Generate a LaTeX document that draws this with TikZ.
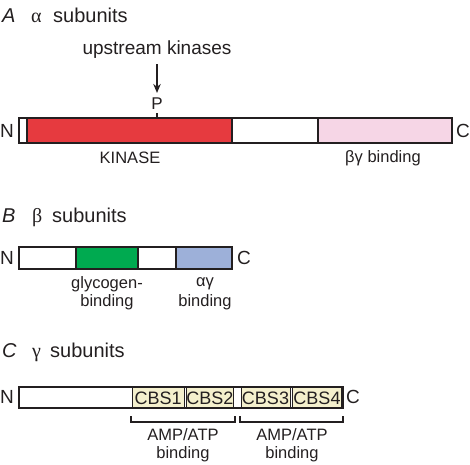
\documentclass[tikz,border=0pt]{standalone}
\usepackage{fontspec}
\setmainfont{Liberation Sans}
\newfontfamily\grserif{Liberation Serif}
\usetikzlibrary{arrows.meta}
\definecolor{ink}{HTML}{231F20}
\definecolor{kred}{HTML}{E63A3F}
\definecolor{bgpink}{HTML}{F6D6E6}
\definecolor{glygreen}{HTML}{00AA50}
\definecolor{agblue}{HTML}{9DB0D9}
\definecolor{cbsfill}{HTML}{F4F0CD}
\tikzset{
  seg/.style={draw=ink, line width=1.4pt},
  cbs/.style={draw=ink, line width=0.8pt, fill=cbsfill},
  lbl/.style={text=ink, font=\fontsize{16.5}{18}\selectfont, inner sep=0pt, align=center},
  ttl/.style={text=ink, font=\fontsize{20}{22}\selectfont, inner sep=0pt, anchor=base west},
  endl/.style={text=ink, font=\fontsize{19}{20}\selectfont, inner sep=0pt},
  cbst/.style={text=ink, font=\fontsize{18}{19}\selectfont, inner sep=0pt},
}
\begin{document}
\begin{tikzpicture}[x=1pt,y=-1pt]
\useasboundingbox (0,0) rectangle (470,464);
% ---- A alpha
\node[ttl] (tA) at (2,22) {\itshape A};
\node[ttl] (tAg) at (31,22) {\grserif α};
\node[ttl] (tAs) at (53,22) {subunits};
\draw[seg, fill=white] (19,118) rectangle (27,143);
\draw[seg, fill=kred] (27,118) rectangle (232,143);
\draw[seg, fill=white] (232,118) rectangle (318,143);
\draw[seg, fill=bgpink] (318,118) rectangle (452,143);
\node[endl] (aN) at (7,131) {N};
\node[endl] (aC) at (463,131) {C};
\node[lbl, font=\fontsize{19}{21}\selectfont] (up) at (157,50) {upstream kinases};
\node[lbl, font=\fontsize{17}{19}\selectfont] (P) at (157,104) {P};
\coordinate (ptick) at (157,118);
\draw[ink, line width=1.3pt, -{Stealth[length=9pt,width=7.5pt]}, shorten >=5pt] (157,64) -- (P.north);
\draw[ink, line width=1.2pt] (157,113) -- (ptick);
\node[lbl] (kin) at (130,158) {KINASE};
\node[lbl] (bgb) at (383,158) {βγ binding};
% ---- B beta
\node[ttl] (tB) at (2,222) {\itshape B};
\node[ttl] (tBg) at (32,222) {\grserif β};
\node[ttl] (tBs) at (52,222) {subunits};
\draw[seg, fill=white] (19,247) rectangle (76,269);
\draw[seg, fill=glygreen] (76,247) rectangle (138,269);
\draw[seg, fill=white] (138,247) rectangle (176,269);
\draw[seg, fill=agblue] (176,247) rectangle (232,269);
\node[endl] (bN) at (7,258) {N};
\node[endl] (bC) at (244,258) {C};
\node[lbl] (gly1) at (107,284) {glycogen-};
\node[lbl] (gly2) at (107,302) {binding};
\node[lbl] (ag1) at (205,284) {αγ};
\node[lbl] (ag2) at (205,302) {binding};
% ---- C gamma
\node[ttl] (tC) at (2,357) {\itshape C};
\node[ttl] (tCg) at (32,357) {\grserif γ};
\node[ttl] (tCs) at (50,357) {subunits};
\draw[seg, fill=white] (19,387) rectangle (343,408);
\draw[cbs] (132.5,387.6) rectangle (184,407.4);
\draw[cbs] (186.5,387.6) rectangle (233,407.4);
\draw[cbs] (241,387.6) rectangle (290,407.4);
\draw[cbs] (292.5,387.6) rectangle (341.5,407.4);
\node[cbst] (c1) at (158.2,398) {CBS1};
\node[cbst] (c2) at (209.8,398) {CBS2};
\node[cbst] (c3) at (265.5,398) {CBS3};
\node[cbst] (c4) at (317,398) {CBS4};
\node[endl] (gN) at (7,397) {N};
\node[endl] (gC) at (353,397) {C};
\draw[ink, line width=1.2pt] (131,416) -- (131,422) -- (235,422) -- (235,416);
\draw[ink, line width=1.2pt] (240,416) -- (240,422) -- (343,422) -- (343,416);
\node[lbl] (amp1) at (183,435) {AMP/ATP};
\node[lbl] (amp1b) at (183,454) {binding};
\node[lbl] (amp2) at (292,435) {AMP/ATP};
\node[lbl] (amp2b) at (292,454) {binding};
\end{tikzpicture}
\end{document}
